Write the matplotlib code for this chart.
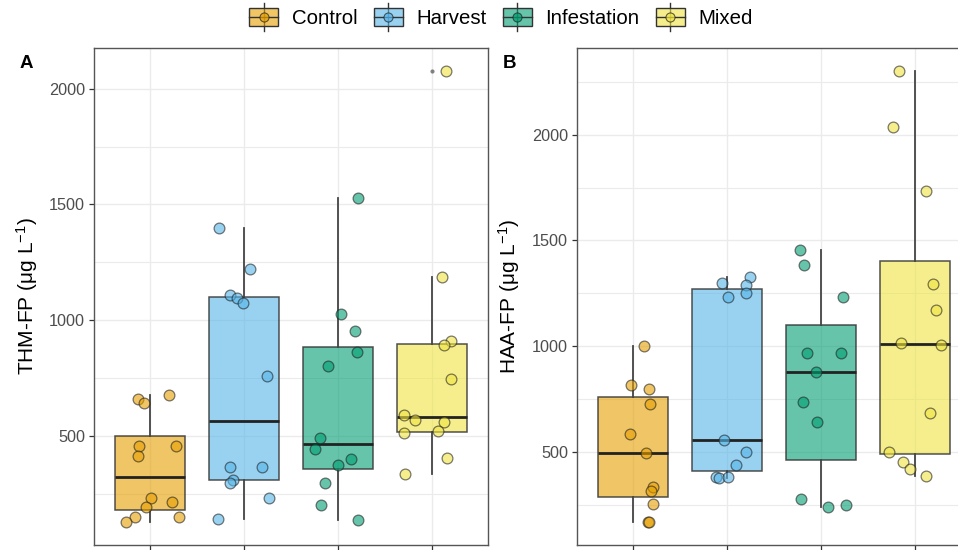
import numpy as np
import matplotlib
matplotlib.use("Agg")
import matplotlib.pyplot as plt
from matplotlib.legend_handler import HandlerBase
from matplotlib.patches import Rectangle, Patch
from matplotlib.lines import Line2D

plt.rcParams['font.family'] = ['Liberation Sans', 'DejaVu Sans']
plt.rcParams['mathtext.fontset'] = 'custom'
plt.rcParams['mathtext.rm'] = 'Liberation Sans'
plt.rcParams['mathtext.it'] = 'Liberation Sans:italic'
plt.rcParams['mathtext.bf'] = 'Liberation Sans:bold'

groups = ["Control", "Harvest", "Infestation", "Mixed"]
colors = ["#E69F00", "#56B4E9", "#009E73", "#F0E442"]

# THM formation potential (ug/L) per treatment
thm_control = [658, 641, 678, 456, 456, 414, 232, 216, 193, 150, 150, 127]
thm_harvest = [1397, 1220, 1107, 1098, 1074, 758, 368, 368, 311, 299, 233, 140]
thm_infest = [1527, 1027, 952, 864, 804, 491, 443, 401, 377, 298, 202, 136]
thm_mixed = [2078, 1188, 912, 895, 747, 592, 569, 562, 520, 512, 405, 338]

# HAA formation potential (ug/L) per treatment
haa_control = [1003, 816, 799, 725, 586, 497, 335, 316, 256, 170, 167]
haa_harvest = [1328, 1300, 1290, 1250, 1234, 555, 501, 437, 382, 376, 380]
haa_infest = [1453, 1385, 1231, 970, 967, 880, 737, 643, 280, 239, 247]
haa_mixed = [2303, 2038, 1733, 1292, 1171, 1014, 1006, 682, 501, 451, 421, 385]

# horizontal jitter of the individual points (category units)
thm_jitter = [
    [-0.135, -0.064, 0.202, -0.124, 0.273, -0.135, 0.004, 0.231, -0.050, 0.302, -0.167, -0.256],
    [-0.270, 0.064, -0.149, -0.071, -0.007, 0.241, -0.149, 0.192, -0.121, -0.149, 0.263, -0.277],
    [0.213, 0.028, 0.177, 0.199, -0.110, -0.192, -0.245, 0.135, 0.0, -0.135, -0.181, 0.213],
    [0.156, 0.106, 0.209, 0.128, 0.206, -0.298, -0.177, 0.128, 0.071, -0.295, 0.163, -0.288],
]
haa_jitter = [
    [0.117, -0.028, 0.170, 0.181, -0.036, 0.131, 0.209, 0.192, 0.213, 0.153, 0.163],
    [0.245, -0.057, 0.199, 0.199, 0.014, -0.028, 0.199, 0.092, -0.117, -0.089, 0.014],
    [-0.227, -0.185, 0.238, 0.217, -0.153, -0.053, -0.192, -0.046, -0.213, 0.071, 0.270],
    [-0.163, -0.231, 0.124, 0.199, 0.227, -0.146, 0.284, 0.163, -0.273, -0.128, -0.053, 0.124],
]

W, H = 958, 550
fig = plt.figure(figsize=(W / 100, H / 100), dpi=100)

def px_axes(left, top, right, bottom):
    return fig.add_axes([left / W, 1 - bottom / H, (right - left) / W, (bottom - top) / H])

ax_a = px_axes(94, 48, 488, 545)
ax_b = px_axes(577, 48, 971, 545)

EDGE = "#333333"
TICK_COLOR = "#4D4D4D"
GRID = "#EBEBEB"
BOX_ALPHA = 0.6


def draw_panel(ax, data, jitter, ylabel, major, minor):
    pos = np.arange(1, len(groups) + 1)
    bp = ax.boxplot(
        data, positions=pos, widths=0.75, patch_artist=True, showcaps=False, whis=1.5,
        boxprops=dict(linewidth=1.1),
        medianprops=dict(color="#222222", linewidth=2.0),
        whiskerprops=dict(color="#444444", linewidth=1.3),
        flierprops=dict(marker="o", markersize=3, markerfacecolor="#333333",
                        markeredgecolor="none", alpha=0.6),
        zorder=2,
    )
    for patch, c in zip(bp["boxes"], colors):
        r, g, b, _ = matplotlib.colors.to_rgba(c)
        patch.set_facecolor((r, g, b, BOX_ALPHA))
        patch.set_edgecolor((0.2, 0.2, 0.2, 0.85))
    for p, vals, jit, c in zip(pos, data, jitter, colors):
        xs = p + np.asarray(jit)
        ax.scatter(xs, vals, s=60, facecolor=c, alpha=0.6, edgecolor="#222222",
                   linewidth=0.9, zorder=4)

    lo = min(min(v) for v in data)
    hi = max(max(v) for v in data)
    rng = hi - lo
    ax.set_ylim(lo - 0.05 * rng, hi + 0.05 * rng)
    ax.set_xlim(0.4, len(groups) + 0.6)
    ax.set_yticks(major)
    ax.set_yticks(minor, minor=True)
    ax.set_xticks(pos)
    ax.set_xticklabels([])
    ax.grid(which="major", color=GRID, linewidth=1.0, zorder=0)
    ax.grid(which="minor", axis="y", color=GRID, linewidth=0.8, zorder=0)
    ax.set_axisbelow(True)
    ax.tick_params(axis="both", which="major", length=3.5, width=0.9, color=EDGE,
                   labelsize=11.7, labelcolor=TICK_COLOR, pad=3)
    ax.tick_params(axis="y", which="minor", length=0)
    for sp in ax.spines.values():
        sp.set_color("#555555")
        sp.set_linewidth(1.0)
    ax.set_ylabel(ylabel, fontsize=15, color="black")


draw_panel(ax_a, [thm_control, thm_harvest, thm_infest, thm_mixed], thm_jitter,
           "THM-FP (μg L$^{-1}$)", [500, 1000, 1500, 2000], [250, 750, 1250, 1750])
draw_panel(ax_b, [haa_control, haa_harvest, haa_infest, haa_mixed], haa_jitter,
           "HAA-FP (μg L$^{-1}$)", [500, 1000, 1500, 2000], [250, 750, 1250, 1750, 2250])

ax_a.yaxis.set_label_coords((27 - 94) / 394, 0.5)
ax_b.yaxis.set_label_coords((509 - 577) / 394, 0.5)
for ax in (ax_a, ax_b):
    ax.yaxis.label.set_va("center")

fig.text(26 / W, 1 - 64 / H, "A", fontsize=13.5, fontweight="bold", ha="center", va="center")
fig.text(510 / W, 1 - 64 / H, "B", fontsize=13.5, fontweight="bold", ha="center", va="center")


class BoxKeyHandler(HandlerBase):
    def create_artists(self, legend, orig_handle, xdescent, ydescent, width, height,
                       fontsize, trans):
        c = orig_handle.get_facecolor()
        x0, y0 = -xdescent, -ydescent
        cx, cy = x0 + width / 2, y0 + height / 2
        ext = 0.3 * height
        whisk = Line2D([cx, cx], [y0 - ext, y0 + height + ext], color=EDGE, lw=1.0,
                       transform=trans)
        rect = Rectangle((x0, y0), width, height, facecolor=(c[0], c[1], c[2], BOX_ALPHA),
                         edgecolor=EDGE, lw=1.0, transform=trans)
        med = Line2D([x0, x0 + width], [cy, cy], color=EDGE, lw=1.0, transform=trans)
        dot = Line2D([cx], [cy], marker="o", markersize=6.5, markerfacecolor=c,
                     markeredgecolor="#222222", markeredgewidth=0.8, alpha=0.7,
                     linestyle="none", transform=trans)
        return [whisk, rect, med, dot]


handles = [Patch(facecolor=c) for c in colors]
fig.legend(handles, groups, loc="center", bbox_to_anchor=(501 / W, 1 - 18 / H), ncol=4,
           frameon=False, handler_map={Patch: BoxKeyHandler()}, fontsize=14.7,
           handlelength=1.42, handleheight=0.98, handletextpad=0.68, columnspacing=0.78,
           borderpad=0, borderaxespad=0)

fig.savefig("out.png", dpi=100)
